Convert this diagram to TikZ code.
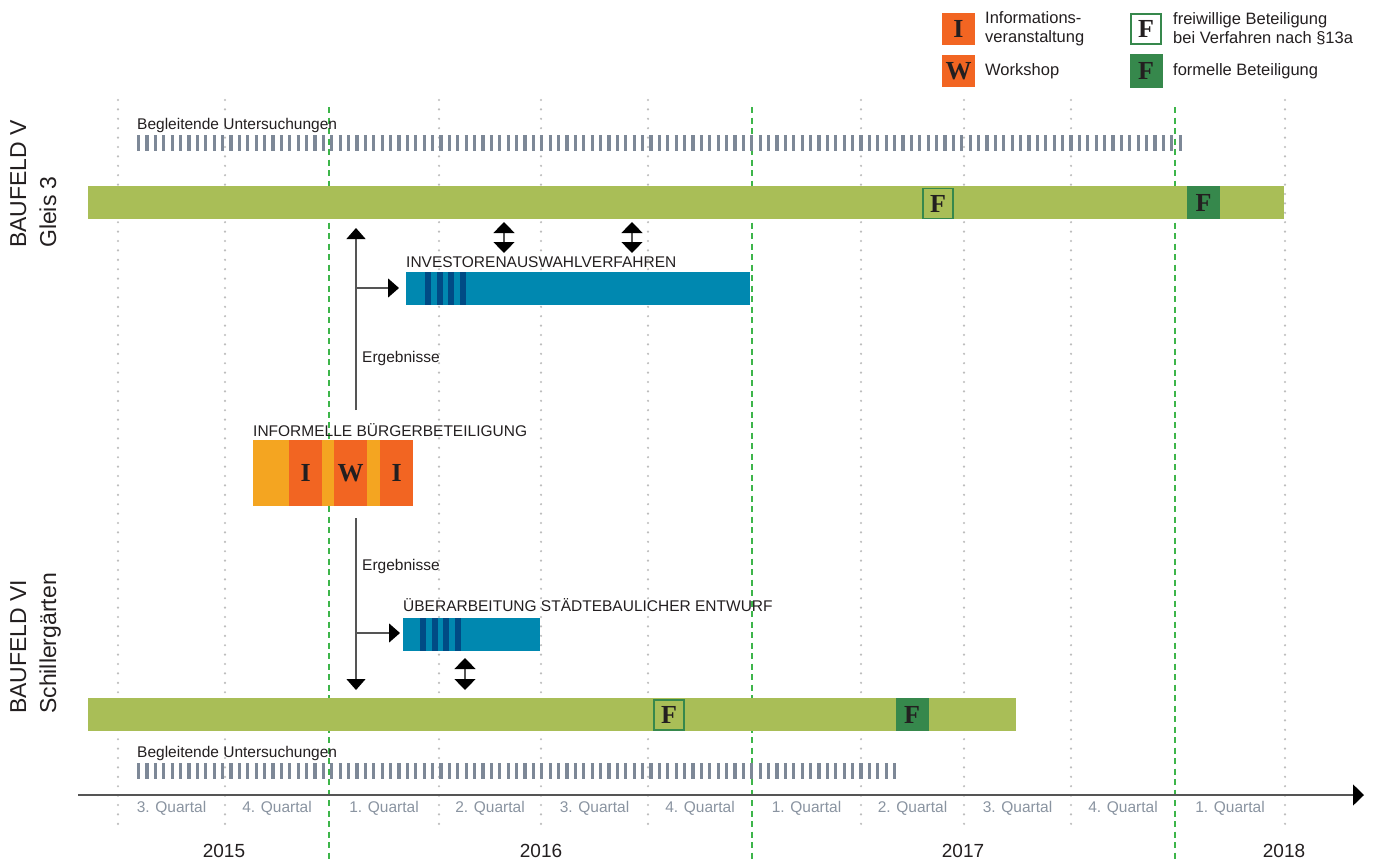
\documentclass[tikz,border=0pt]{standalone}
\usepackage{fontspec}
\setmainfont{Liberation Sans}
\newfontfamily\boxfont{Liberation Serif}
\usetikzlibrary{arrows.meta}
\definecolor{barGreen}{HTML}{A9BE57}
\definecolor{darkGreen}{HTML}{36884C}
\definecolor{tealBar}{HTML}{0088B0}
\definecolor{navyStripe}{HTML}{004B85}
\definecolor{orangeL}{HTML}{F4A521}
\definecolor{orangeR}{HTML}{F26522}
\definecolor{stripeGray}{HTML}{7D8897}
\definecolor{gridGray}{HTML}{BDBDBD}
\definecolor{gridGreen}{HTML}{3DB54A}
\definecolor{qGray}{HTML}{8A94A1}
\definecolor{txt}{HTML}{231F20}
\definecolor{lineGray}{HTML}{555555}
\tikzset{
  lbl/.style={font=\fontsize{15.5}{18}\selectfont, text=txt, inner sep=0pt},
  lglbl/.style={font=\fontsize{16.5}{19}\selectfont, text=txt, inner sep=0pt},
  qlbl/.style={font=\fontsize{15.5}{18}\selectfont, text=qGray, inner sep=0pt},
  yearlbl/.style={font=\fontsize{19}{21}\selectfont, text=txt, inner sep=0pt},
  sidelbl/.style={font=\fontsize{23}{30}\selectfont, text=txt, inner sep=0pt, rotate=90, anchor=north west, align=left},
  bar/.style={fill=barGreen, draw=none, inner sep=0pt, minimum height=33pt, anchor=north west},
  tealbar/.style={fill=tealBar, draw=none, inner sep=0pt, minimum height=33pt, anchor=north west},
  boxletter/.style={font=\boxfont\bfseries\fontsize{26}{26}\selectfont, text=txt},
  fbox/.style={boxletter, fill=barGreen, draw=darkGreen, line width=1.5pt, inner sep=0pt, minimum width=30pt, minimum height=30pt},
  fboxdark/.style={boxletter, fill=darkGreen, draw=none, inner sep=0pt, minimum width=33pt, minimum height=33pt},
  lgbox/.style={boxletter, fill=orangeR, draw=none, inner sep=0pt, minimum width=33pt, minimum height=32pt},
  orseg/.style={boxletter, draw=none, inner sep=0pt, minimum height=66pt, anchor=north west},
  gridline/.style={gridGray, line width=2.4pt, line cap=round, dash pattern=on 0pt off 9.4pt},
  greenline/.style={gridGreen, line width=2.8pt, dash pattern=on 6pt off 4.5pt},
  stripes/.style={stripeGray, line width=16pt, dash pattern=on 3.2pt off 5.2pt},
  conn/.style={lineGray, line width=1.2pt},
  tip/.style={-{Triangle[width=19pt,length=11pt,black]}},
  dtip/.style={{Triangle[width=21pt,length=11pt,black]}-{Triangle[width=21pt,length=11pt,black]}},
}
\begin{document}
\begin{tikzpicture}[x=1pt,y=-1pt]
\useasboundingbox (0,0) rectangle (1376,859);
\fill[white] (0,0) rectangle (1376,859);
% grid
\foreach \gx in {118,225,439,541,648,861,964,1071,1285}
  \draw[gridline] (\gx,100) -- (\gx,830);
\foreach \gx in {329,752,1175}
  \draw[greenline] (\gx,107) -- (\gx,859);
% legend
\node[lgbox] (lgI) at (958.5,29) {I};
\node[lgbox] (lgW) at (958.5,71) {W};
\node[lglbl, anchor=west, align=left] (lgIt) at (985,29) {Informations-\\veranstaltung};
\node[lglbl, anchor=west] (lgWt) at (985,71) {Workshop};
\node[fbox, fill=white] (lgF1) at (1146,29) {F};
\node[fboxdark] (lgF2) at (1146,71) {F};
\node[lglbl, anchor=west, align=left] (lgF1t) at (1173,29) {freiwillige Beteiligung\\bei Verfahren nach §13a};
\node[lglbl, anchor=west] (lgF2t) at (1173,71) {formelle Beteiligung};
% side labels
\node[sidelbl] (bv) at (10,248) {BAUFELD V\\Gleis 3};
\node[sidelbl] (bvi) at (10,714) {BAUFELD VI\\Schillergärten};
% top Begleitende
\node[lbl, anchor=base west] (bu1) at (137,129) {Begleitende Untersuchungen};
\draw[stripes] (137,143) -- (1182,143);
% top bar
\node[bar, minimum width=1196pt] (topbar) at (88,186) {};
\node[fbox] (tF1) at (938,203.5) {F};
\node[fboxdark] (tF2) at (1203.5,202.5) {F};
% investor bar
\node[lbl, anchor=base west] (invl) at (406,267) {INVESTORENAUSWAHLVERFAHREN};
\node[tealbar, minimum width=344pt] (inv) at (406,272) {};
\foreach \sx in {425,437,448,460}
  \fill[navyStripe] (\sx,272) rectangle ++(5.5,33);
% double arrows top
\coordinate (da1t) at (504,222); \coordinate (da1b) at (504,253);
\coordinate (da2t) at (632,222); \coordinate (da2b) at (632,253);
\draw[conn, dtip] (da1t) -- (da1b);
\draw[conn, dtip] (da2t) -- (da2b);
% orange block
\node[lbl, anchor=base west] (infl) at (253,436) {INFORMELLE BÜRGERBETEILIGUNG};
\node[orseg, fill=orangeL, minimum width=36pt] (o1) at (253,440) {};
\node[orseg, fill=orangeR, minimum width=33pt] (o2) at (289,440) {I};
\node[orseg, fill=orangeL, minimum width=12pt] (o3) at (322,440) {};
\node[orseg, fill=orangeR, minimum width=33pt] (o4) at (334,440) {W};
\node[orseg, fill=orangeL, minimum width=13pt] (o5) at (367,440) {};
\node[orseg, fill=orangeR, minimum width=33pt] (o6) at (380,440) {I};
% upper connector
\coordinate (v1s) at (356,410);
\coordinate (v1t) at (356,228);
\coordinate (h1s) at (356,288);
\draw[conn, tip] (v1s) -- (v1t);
\draw[conn, tip, shorten >=7pt] (h1s) -- (inv.west |- h1s);
\node[lbl, anchor=west] (erg1) at (362,358) {Ergebnisse};
% lower connector
\coordinate (v2s) at (356,518);
\coordinate (v2t) at (356,690);
\coordinate (h2s) at (356,633);
\draw[conn, tip] (v2s) -- (v2t);
\node[lbl, anchor=west] (erg2) at (362,566) {Ergebnisse};
% ueberarbeitung bar
\node[lbl, anchor=base west] (uebl) at (403,611) {ÜBERARBEITUNG STÄDTEBAULICHER ENTWURF};
\node[tealbar, minimum width=137pt] (ueb) at (403,618) {};
\foreach \sx in {420,432,443,455}
  \fill[navyStripe] (\sx,618) rectangle ++(5.5,33);
\draw[conn, tip, shorten >=3pt] (h2s) -- (ueb.west |- h2s);
\coordinate (da3t) at (465,658); \coordinate (da3b) at (465,690);
\draw[conn, dtip] (da3t) -- (da3b);
% bottom bar
\node[bar, minimum width=928pt] (botbar) at (88,698) {};
\node[fbox] (bF1) at (669,715) {F};
\node[fboxdark] (bF2) at (912,714.5) {F};
% bottom Begleitende
\node[lbl, anchor=base west] (bu2) at (137,757) {Begleitende Untersuchungen};
\draw[stripes] (137,770.5) -- (897,770.5);
% axis
\coordinate (ax0) at (78,795);
\coordinate (ax1) at (1364,795);
\draw[lineGray, line width=1.5pt, -{Triangle[width=21pt,length=11pt,black]}] (ax0) -- (ax1);
% quartal labels
\node[qlbl] (q1) at (171.5,808) {3. Quartal};
\node[qlbl] (q2) at (277,808) {4. Quartal};
\node[qlbl] (q3) at (384,808) {1. Quartal};
\node[qlbl] (q4) at (490,808) {2. Quartal};
\node[qlbl] (q5) at (594.5,808) {3. Quartal};
\node[qlbl] (q6) at (700,808) {4. Quartal};
\node[qlbl] (q7) at (806.5,808) {1. Quartal};
\node[qlbl] (q8) at (912.5,808) {2. Quartal};
\node[qlbl] (q9) at (1017.5,808) {3. Quartal};
\node[qlbl] (q10) at (1123,808) {4. Quartal};
\node[qlbl] (q11) at (1230,808) {1. Quartal};
% years
\node[yearlbl] (y15) at (224,851) {2015};
\node[yearlbl] (y16) at (541,851) {2016};
\node[yearlbl] (y17) at (963,851) {2017};
\node[yearlbl] (y18) at (1284,851) {2018};
\end{tikzpicture}
\end{document}
